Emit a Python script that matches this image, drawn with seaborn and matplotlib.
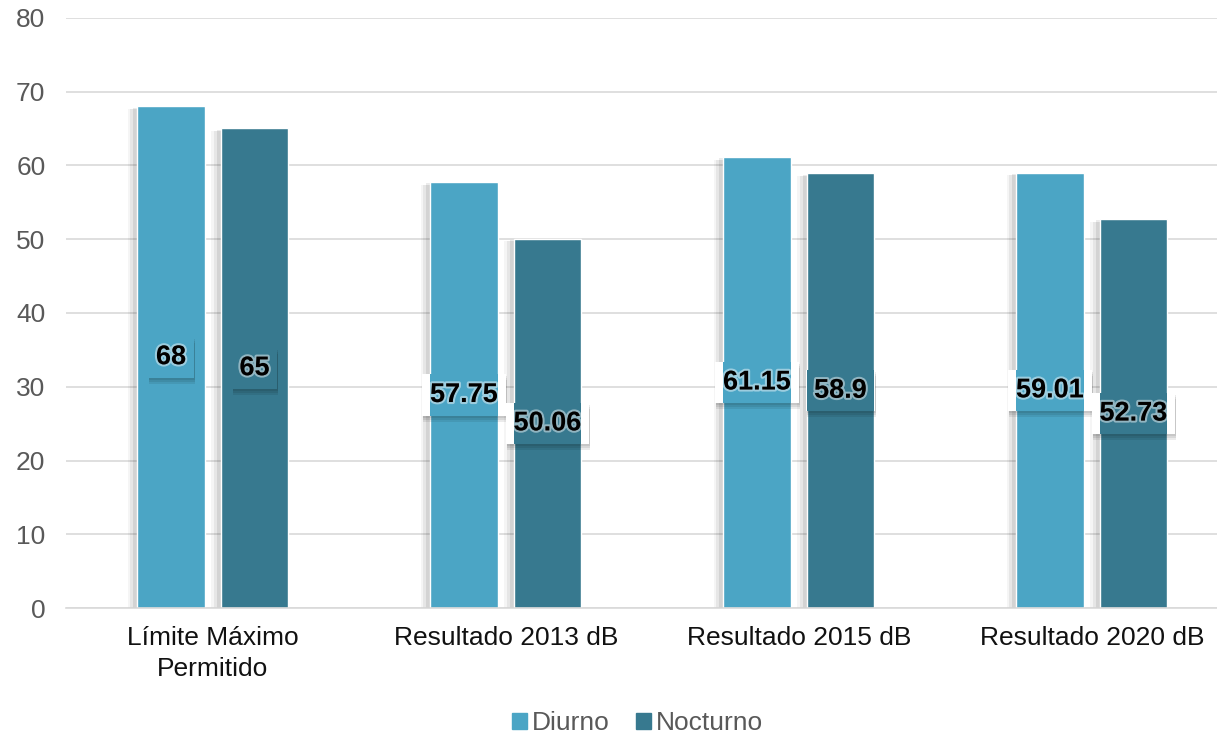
import matplotlib
matplotlib.use("Agg")
import matplotlib.pyplot as plt
import matplotlib.patheffects as pe
import matplotlib.transforms as mtransforms
import pandas as pd
import seaborn as sns

categorias = ["Límite Máximo\nPermitido", "Resultado 2013 dB", "Resultado 2015 dB", "Resultado 2020 dB"]
diurno = [68, 57.75, 61.15, 59.01]
nocturno = [65, 50.06, 58.9, 52.73]
etiquetas_diurno = ["68", "57.75", "61.15", "59.01"]
etiquetas_nocturno = ["65", "50.06", "58.9", "52.73"]
series = ["Diurno", "Nocturno"]

df = pd.DataFrame({
    "Categoria": categorias * 2,
    "Valor": diurno + nocturno,
    "Serie": [series[0]] * 4 + [series[1]] * 4,
})

pal = ["#4BA5C5", "#37798F"]
gris = "#595959"

sns.set_style("white")
plt.rcParams['font.family'] = ['Liberation Sans', 'DejaVu Sans']

fig = plt.figure(figsize=(12.17, 7.38), dpi=100)
ax = fig.add_axes([0.0545, 0.176, 0.963, 0.8])

ax = sns.barplot(data=df, x="Categoria", y="Valor", hue="Serie", palette=pal,
                 width=0.57, gap=0.19, saturation=1, ax=ax, zorder=2, legend=False)

# sombra suave a la izquierda de cada barra
for cont in ax.containers:
    for p in cont:
        p.set_path_effects([pe.SimplePatchShadow(offset=(-7, -2), shadow_rgbFace="black", alpha=0.04),
                            pe.SimplePatchShadow(offset=(-5, -2), shadow_rgbFace="black", alpha=0.06),
                            pe.SimplePatchShadow(offset=(-3, -1), shadow_rgbFace="black", alpha=0.08),
                            pe.Normal()])

ax.set_ylim(0, 80)
ax.set_xlim(-0.5, 3.5)
ax.set_yticks(range(0, 81, 10))
ax.grid(axis="y", color="#D9D9D9", lw=1.2, zorder=0)
ax.set_axisbelow(True)
for s in ["top", "right", "left"]:
    ax.spines[s].set_visible(False)
ax.spines["bottom"].set_color("#D9D9D9")
ax.spines["bottom"].set_linewidth(1.2)
ax.tick_params(axis="both", length=0, labelsize=19)
ax.tick_params(axis="x", pad=13, colors="#111111")
ax.tick_params(axis="y", pad=15, colors=gris)
for lab in ax.get_xticklabels():
    lab.set_linespacing(1.35)
ax.set_xlabel("")
ax.set_ylabel("")

# etiquetas de datos al centro de cada barra
desp = 0.57 / 4
caja = dict(boxstyle="square,pad=0.28", edgecolor="none")
kw = dict(ha="center", va="center", fontsize=19.5, fontweight="bold")
for j, (vals, labs, dx) in enumerate([(diurno, etiquetas_diurno, -desp), (nocturno, etiquetas_nocturno, desp)]):
    bars = ax.containers[j]
    for i in range(len(categorias)):
        x, y = i + dx, vals[i] / 2
        for k in range(3):
            tr = mtransforms.offset_copy(ax.transData, fig=fig, x=1, y=-2 - 2 * k, units="dots")
            ax.text(x, y, labs[i], transform=tr, color=(0, 0, 0, 0), zorder=3,
                    bbox=dict(caja, facecolor=(0, 0, 0, 0.08)), **kw)
        ax.text(x, y, labs[i], color=(0, 0, 0, 0), zorder=3.5,
                bbox=dict(caja, facecolor="white"), **kw)
        tb = ax.text(x, y, labs[i], color=(0, 0, 0, 0), zorder=4,
                     bbox=dict(caja, facecolor=pal[j]), **kw)
        tb.set_clip_on(True)
        tb.set_clip_path(bars[i])
        ax.text(x, y, labs[i], color="black", zorder=5,
                path_effects=[pe.withStroke(linewidth=3, foreground=(1, 1, 1, 0.45))], **kw)

handles = [plt.Rectangle((0, 0), 1, 1, color=c) for c in pal]
leg = fig.legend(handles, series, loc="center", bbox_to_anchor=(0.524, 0.02), ncol=2, frameon=False,
                 fontsize=19, handlelength=0.55, handleheight=0.55, handletextpad=0.2,
                 columnspacing=1.0, borderpad=0)
for txt in leg.get_texts():
    txt.set_color(gris)

fig.savefig("out.png", dpi=100)
